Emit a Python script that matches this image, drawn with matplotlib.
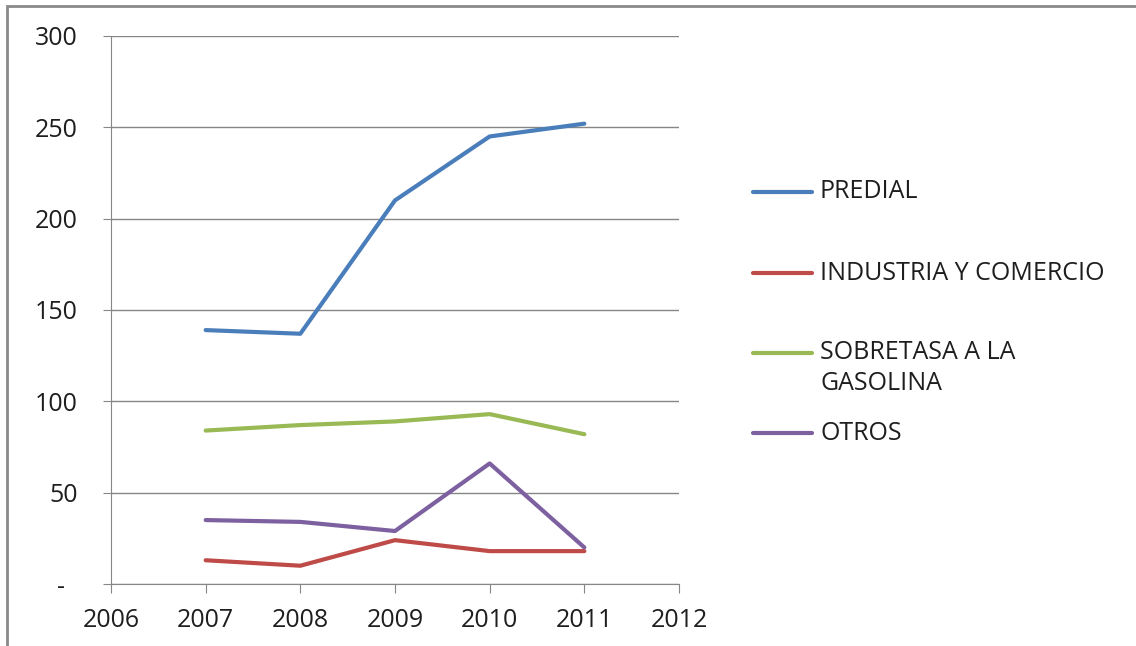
import matplotlib.pyplot as plt
from matplotlib.lines import Line2D
from matplotlib.patches import Rectangle

plt.rcParams['font.family'] = ['Open Sans', 'DejaVu Sans']

# data
years = [2007, 2008, 2009, 2010, 2011]
predial = [139, 137, 210, 245, 252]
industria = [13, 10, 24, 18, 18]
sobretasa = [84, 87, 89, 93, 82]
otros = [35, 34, 29, 66, 20]

series_names = ['PREDIAL', 'INDUSTRIA Y COMERCIO', 'SOBRETASA A LA\nGASOLINA', 'OTROS']
series_vals = [predial, industria, sobretasa, otros]
colors = ['#4A7EBB', '#BE4B48', '#98B954', '#7D60A0']

y_ticks = [0, 50, 100, 150, 200, 250, 300]
y_labels = ['-  ', '50', '100', '150', '200', '250', '300']
x_ticks = [2006, 2007, 2008, 2009, 2010, 2011, 2012]

W, H = 1136, 646
fig = plt.figure(figsize=(W / 100, H / 100), dpi=100)
ax = fig.add_axes([111 / W, 1 - 584 / H, 568 / W, 548 / H])

for vals, c in zip(series_vals, colors):
    ax.plot(years, vals, color=c, lw=3, solid_capstyle='round', zorder=3)

ax.set_xlim(2006, 2012)
ax.set_ylim(0, 300)
ax.set_xticks(x_ticks)
ax.set_xticklabels([str(x) for x in x_ticks])
ax.set_yticks(y_ticks)
ax.set_yticklabels(y_labels)

grid_c = '#868686'
txt_c = '#1e1e1e'
ax.grid(axis='y', color=grid_c, lw=1)
ax.set_axisbelow(True)
for s in ['top', 'right']:
    ax.spines[s].set_visible(False)
for s in ['left', 'bottom']:
    ax.spines[s].set_color(grid_c)
ax.tick_params(axis='x', length=6.5, color=grid_c, pad=11, labelsize=18, labelcolor=txt_c)
ax.tick_params(axis='y', length=5.8, color=grid_c, pad=18, labelsize=18, labelcolor=txt_c)

# legend, drawn by hand to mimic the spreadsheet layout
leg_y = [192, 273, 368, 433]
line_y = [192, 273, 353, 433]
for name, c, py, ly in zip(series_names, colors, leg_y, line_y):
    fig.add_artist(Line2D([753 / W, 812 / W], [1 - ly / H, 1 - ly / H], color=c, lw=3,
                          solid_capstyle='round', transform=fig.transFigure))
    fig.text(820 / W, 1 - py / H, name, fontsize=18, color=txt_c, va='center',
             linespacing=1.3)

# outer frame
fig.add_artist(Rectangle((7 / W, -0.05), 1.1, 1 - 6 / H + 0.05, transform=fig.transFigure,
                         fill=False, edgecolor='#8a8a8a', lw=2, clip_on=False))

fig.savefig('out.png', dpi=100)
